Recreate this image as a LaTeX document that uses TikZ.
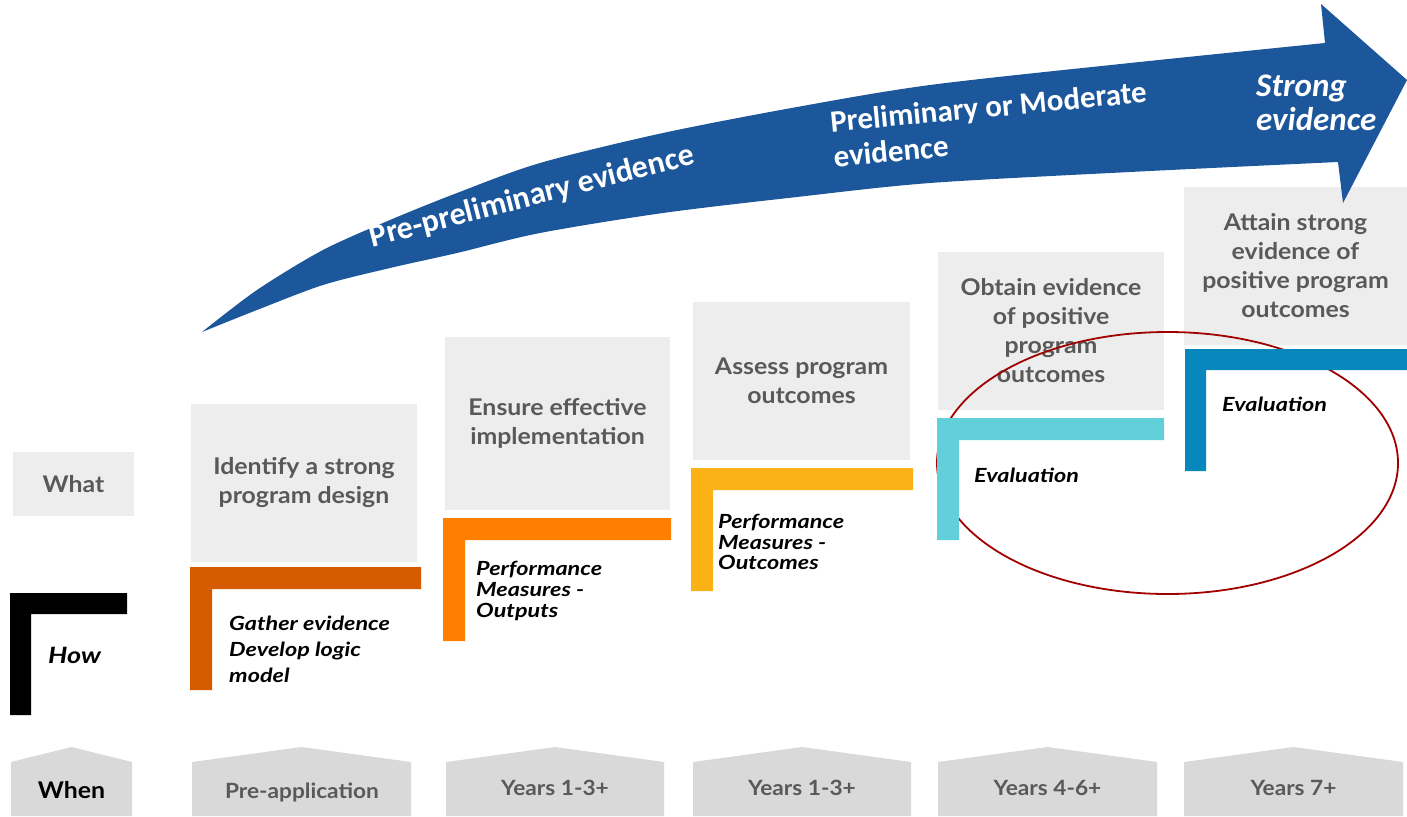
\documentclass[tikz,border=0pt]{standalone}
\usepackage{fontspec}
\usetikzlibrary{shapes.geometric}
\newfontfamily\latobox[FakeStretch=1.08]{Lato}
\newfontfamily\latolab[FakeStretch=1.2]{Lato}
\newfontfamily\carlito{Carlito}
\definecolor{arrowblue}{RGB}{28,86,155}
\definecolor{boxgray}{RGB}{237,237,237}
\definecolor{pentgray}{RGB}{217,217,217}
\definecolor{txtgray}{RGB}{89,89,89}
\definecolor{ldorange}{RGB}{213,90,0}
\definecolor{lorange}{RGB}{255,128,0}
\definecolor{lyellow}{RGB}{251,178,23}
\definecolor{lcyan}{RGB}{97,208,219}
\definecolor{lblue}{RGB}{7,135,187}
\definecolor{ringred}{RGB}{160,0,0}
\newcommand\myL[6]{\fill[#6] (#1,#2) -- (#3,#2) -- (#3,#2+#5) -- (#1+#5,#2+#5) -- (#1+#5,#4) -- (#1,#4) -- cycle;}
\newcommand\myPent[2]{\fill[pent] (#1,816) -- (#1,762) -- ({(#1+#2)/2},747) -- (#2,762) -- (#2,816) -- cycle;}
\begin{document}
\begin{tikzpicture}[x=1pt,y=-1pt,
  whatbox/.style={fill=boxgray, inner sep=0pt, align=center, text=txtgray, font=\latobox\bfseries\fontsize{23}{29}\selectfont},
  howlabel/.style={anchor=west, align=left, inner sep=0pt, font=\latolab\bfseries\itshape\fontsize{19.5}{26}\selectfont},
  perflabel/.style={anchor=west, align=left, inner sep=0pt, font=\latolab\bfseries\itshape\fontsize{19.5}{20.8}\selectfont},
  whenlabel/.style={text=txtgray, inner sep=0pt, font=\latobox\bfseries\fontsize{21}{24}\selectfont},
  pent/.style={fill=pentgray},
  arrowtext/.style={text=white, align=left, inner sep=0pt, font=\carlito\bfseries\fontsize{32}{35}\selectfont},
]
\useasboundingbox (0,0) rectangle (1407,816);

% gray "what" boxes
\node[whatbox, minimum width=121, minimum height=64] (what) at (73.5,484) {What};
\node[whatbox, minimum width=226, minimum height=158] (identify) at (304,483) {Identify a strong\\program design};
\node[whatbox, minimum width=225, minimum height=173] (ensure) at (557.5,423.5) {Ensure effective\\implementation};
\node[whatbox, minimum width=217, minimum height=158] (assess) at (801.5,381) {Assess program\\outcomes};
\node[whatbox, minimum width=226, minimum height=158] (obtain) at (1051,331) {Obtain evidence\\of positive\\program\\outcomes};
\node[whatbox, minimum width=223, minimum height=158] (attain) at (1295.5,266) {Attain strong\\evidence of\\positive program\\outcomes};

% big curved arrow
\fill[arrowblue] (202,332) -- plot[smooth] coordinates {(202,332) (257,290) (323,250) (390,220) (457,193) (540,163) (663,133) (797,107) (930,85) (1130,63) (1325,43)}
  -- (1321,4) -- (1407,80) -- (1343,203) -- (1338,162)
  -- plot[smooth] coordinates {(1338,162) (1130,172) (930,183) (797,197) (663,213) (540,233) (457,253) (390,268) (323,285) (257,310) (202,332)} -- cycle;
\node[arrowtext, rotate=14.5] (prepre) at (532,197) {Pre-preliminary evidence};
\node[arrowtext, rotate=5.5, font=\carlito\bfseries\fontsize{31}{35}\selectfont] (prelim) at (990,124) {Preliminary or Moderate\\evidence};
\node[arrowtext, anchor=west, font=\carlito\bfseries\itshape\fontsize{33}{34}\selectfont] (strong) at (1256,103) {Strong\\evidence};

% highlight ellipse
\node[draw=ringred, line width=1.8pt, ellipse, minimum width=461, minimum height=262, inner sep=0pt] (ring) at (1167.5,463) {};

% "how" L shapes
\myL{10}{593}{127}{715}{21}{black}
\myL{190}{567}{421}{690}{22}{ldorange}
\myL{443}{518}{671}{641}{22}{lorange}
\myL{691}{468}{913}{591}{22}{lyellow}
\myL{937}{418}{1164}{540}{22}{lcyan}
\myL{1185}{349}{1407}{471}{21}{lblue}

\node[howlabel, font=\latolab\bfseries\itshape\fontsize{22.5}{26}\selectfont] (how) at (48,655) {How};
\node[howlabel] (gather) at (229,649) {Gather evidence\\Develop logic\\model};
\node[perflabel] (outputs) at (476,591) {Performance\\Measures -\\Outputs};
\node[perflabel] (outcomes) at (718,542) {Performance\\Measures -\\Outcomes};
\node[howlabel] (eval1) at (974,475) {Evaluation};
\node[howlabel] (eval2) at (1222,404) {Evaluation};

% "when" pentagons
\myPent{11}{132}
\myPent{192}{411}
\myPent{446}{664}
\myPent{693}{911}
\myPent{938}{1157}
\myPent{1184}{1403}
\node[whenlabel, text=black, font=\latobox\bfseries\fontsize{23}{26}\selectfont] (when) at (71.5,790) {When};
\node[whenlabel] (preapp) at (302,792) {Pre-application};
\node[whenlabel] (y13a) at (555,788) {Years 1-3+};
\node[whenlabel] (y13b) at (802,788) {Years 1-3+};
\node[whenlabel] (y46) at (1047.5,788) {Years 4-6+};
\node[whenlabel] (y7) at (1293.5,788) {Years 7+};
\end{tikzpicture}
\end{document}
